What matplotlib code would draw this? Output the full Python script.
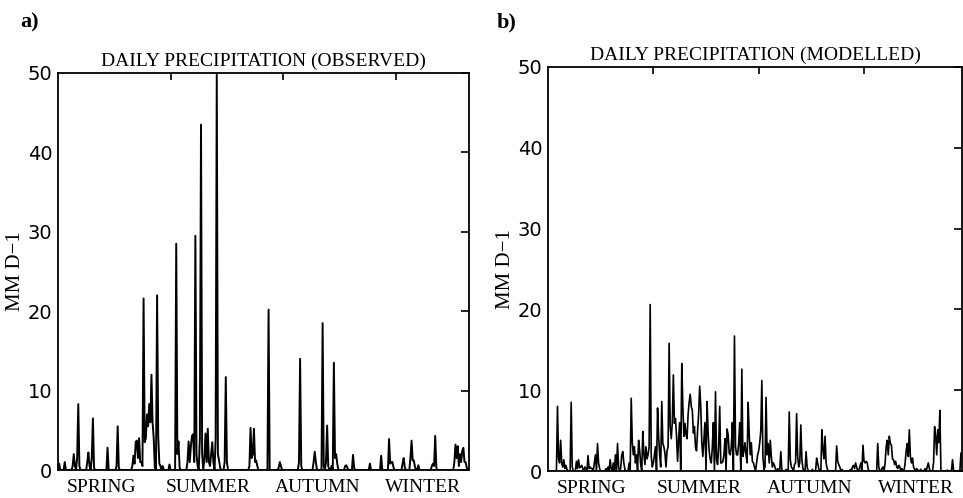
import numpy as np
import matplotlib
matplotlib.use("Agg")
import matplotlib.pyplot as plt

# observed daily precipitation: rain days and amounts (mm/day), all other days dry
obs_days = [1, 6, 13, 14, 15, 17, 18, 19, 26, 27, 28, 30, 31, 32, 44, 52, 53, 54,
            66, 67, 68, 69, 70, 71, 72, 73, 74, 75, 76, 77, 78, 79, 80, 81, 82, 83,
            84, 85, 86, 88, 89, 90, 91, 93, 99, 105, 106, 107, 108, 115, 116, 117,
            118, 119, 120, 121, 122, 123, 124, 126, 127, 128, 130, 131, 132, 133,
            134, 135, 136, 137, 138, 140, 141, 142, 143, 144, 148, 149, 150, 170,
            171, 172, 173, 174, 175, 176, 177, 187, 196, 197, 198, 214, 215, 216,
            227, 228, 229, 235, 236, 238, 239, 240, 243, 245, 246, 247, 248, 255,
            256, 257, 262, 263, 277, 287, 294, 295, 296, 297, 298, 306, 307, 308,
            313, 314, 315, 316, 317, 320, 332, 333, 334, 335, 336, 352, 353, 354,
            355, 356, 357, 358, 359, 360, 361, 362, 363]
obs_mm = [0.8, 1.0, 0.5, 2.0, 0.5, 1.5, 8.3, 0.5, 1.0, 2.2, 0.5, 1.5, 6.5, 0.3, 2.8, 0.5, 5.5, 0.3,
          0.5, 1.8, 0.8, 3.5, 3.7, 1.5, 4.0, 1.0, 1.0, 0.5, 21.6, 3.5, 4.0, 7.0, 5.5, 8.3, 6.0, 12.0,
          6.0, 4.0, 0.3, 22.0, 4.3, 0.8, 0.5, 0.5, 0.7, 28.5, 2.0, 3.6, 0.3, 1.0, 3.6, 1.0,
          3.0, 4.3, 4.5, 1.0, 29.5, 2.0, 0.5, 4.0, 43.5, 2.0, 1.5, 4.6, 1.0, 5.2,
          1.0, 0.5, 2.0, 3.5, 1.0, 4.0, 49.8, 2.0, 1.2, 0.3, 1.0, 11.7, 1.0, 0.5,
          5.3, 1.5, 2.0, 5.2, 1.0, 1.2, 0.5, 20.2, 0.3, 1.0, 0.5, 1.0, 14.0, 0.5,
          1.0, 2.3, 1.0, 18.5, 0.5, 1.0, 5.6, 0.5, 0.5, 13.5, 1.5, 2.0, 0.8, 0.5,
          0.6, 0.3, 1.9, 0.3, 0.8, 1.8, 3.9, 0.8, 1.0, 1.0, 0.3, 0.8, 1.5, 0.3,
          1.5, 3.7, 1.2, 1.2, 0.4, 0.6, 0.5, 0.8, 0.5, 4.3, 0.3, 1.0, 3.2, 1.5,
          3.0, 0.5, 2.0, 1.0, 2.4, 2.8, 1.0, 1.0, 0.3]

# modelled daily precipitation: days and amounts (mm/day), unlisted days dry
mod_days = [9, 10, 11, 12, 13, 14, 15, 16, 17, 18, 22, 23, 27, 28, 29, 30, 31, 32, 33, 35,
            36, 38, 39, 40, 41, 42, 44, 45, 47, 48, 49, 55, 57, 59, 60, 62, 64, 66, 67,
            69, 70, 71, 72, 73, 77, 79, 80, 81, 82, 83, 84, 86, 87, 88, 90, 91, 92, 93,
            94, 95, 96, 97, 98, 99, 100, 101, 102, 104, 105, 106, 107, 108, 109, 110,
            111, 112, 113, 114, 115, 116, 117, 118, 119, 120, 121, 122, 123, 124, 125,
            127, 128, 129, 130, 131, 132, 133, 134, 135, 136, 137, 138, 139, 140, 141,
            142, 143, 144, 145, 146, 147, 148, 149, 151, 152, 153, 154, 155, 156, 157,
            159, 160, 161, 162, 163, 164, 165, 166, 167, 168, 170, 171, 172, 173, 174,
            175, 177, 178, 179, 180, 181, 182, 184, 185, 186, 187, 188, 189, 190, 191,
            192, 193, 194, 195, 196, 198, 199, 200, 201, 202, 203, 204, 205, 206, 207,
            208, 209, 210, 211, 212, 213, 214, 215, 216, 218, 220, 221, 222, 226, 229,
            230, 231, 232, 234, 235, 236, 237, 238, 239, 240, 241, 242, 245, 246, 251,
            255, 256, 257, 260, 261, 262, 263, 264, 265, 274, 275, 276, 277, 279, 287,
            289, 290, 291, 292, 293, 296, 297, 299, 300, 301, 302, 303, 304, 313, 314,
            317, 318, 320, 321, 322, 323, 324, 325, 326, 327, 328, 329, 330, 331, 332,
            333, 334, 336, 339, 340, 341, 342, 343, 344, 345, 346, 347, 348, 350, 352,
            354, 358, 360, 361, 362, 366, 367, 368, 369, 370, 371, 372, 373, 379, 384,
            385, 392]
mod_mm = [8.0, 1.5, 1.0, 3.8, 1.0, 0.5, 1.4, 0.3, 0.7, 0.2, 8.5, 0.5, 1.2, 0.3, 1.4, 0.4, 0.5, 0.7, 0.3, 0.5,
          0.3, 1.9, 0.3, 0.5, 0.3, 0.3, 1.0, 2.0, 3.4, 1.0, 0.3, 0.3, 0.5, 1.4, 0.3, 1.0, 2.0, 3.4, 0.5,
          0.3, 2.0, 2.4, 1.0, 0.2, 1.0, 9.0, 3.6, 2.0, 3.0, 1.0, 2.0, 3.8, 2.6, 0.8, 4.9, 2.2, 0.8, 3.0,
          1.5, 2.0, 3.0, 20.6, 1.8, 0.5, 1.0, 2.0, 3.0, 7.8, 4.3, 2.0, 0.5, 8.6, 3.4, 3.0,
          2.2, 0.5, 2.5, 3.0, 15.8, 5.5, 4.0, 6.0, 11.9, 5.9, 6.5, 4.3, 1.2, 4.0, 6.0,
          13.3, 8.0, 4.3, 5.9, 4.5, 4.0, 7.0, 8.5, 9.5, 8.0, 7.5, 4.7, 5.5, 3.0, 2.5,
          5.0, 7.0, 10.5, 8.0, 3.5, 1.8, 4.0, 6.0, 8.6, 4.7, 2.5, 1.4, 1.0, 3.0, 6.0,
          9.8, 1.4, 0.8, 3.0, 8.0, 1.0, 1.0, 1.2, 2.0, 4.0, 5.2, 4.5, 2.2, 2.0, 3.0,
          6.0, 16.7, 3.0, 2.0, 2.0, 3.5, 6.0, 12.6, 1.8, 2.5, 3.5, 2.0, 1.0, 8.5, 4.5,
          2.0, 3.5, 1.2, 1.0, 0.5, 1.0, 2.0, 2.5, 3.5, 5.0, 11.2, 1.8, 0.2, 0.5, 9.1,
          2.0, 3.4, 1.0, 3.8, 1.8, 0.5, 1.0, 0.7, 0.2, 0.3, 0.2, 2.4, 0.1, 0.2, 7.3,
          1.4, 0.5, 0.3, 0.8, 1.0, 7.1, 1.8, 0.5, 1.0, 5.7, 1.4, 0.3, 2.4, 0.5, 0.2,
          1.6, 1.0, 0.3, 5.1, 2.6, 1.5, 4.3, 1.0, 0.3, 3.1, 1.2, 0.8, 0.5, 0.2, 0.2,
          0.5, 0.7, 0.3, 1.0, 0.5, 0.5, 1.0, 3.2, 1.2, 1.0, 1.2, 1.0, 0.2, 3.4, 0.5,
          0.3, 0.5, 1.0, 3.0, 3.8, 2.0, 4.3, 3.4, 3.2, 1.5, 1.4, 0.8, 1.2, 0.5, 0.3,
          0.7, 0.5, 0.3, 1.0, 2.5, 3.4, 1.8, 5.1, 1.8, 1.0, 1.6, 0.5, 0.2, 0.3, 0.1,
          0.2, 0.3, 0.5, 1.0, 0.3, 1.0, 5.5, 4.3, 2.0, 5.1, 3.5, 7.5, 0.1, 0.1, 1.4,
          0.1, 2.2]

seasons = ["SPRING", "SUMMER", "AUTUMN", "WINTER"]
season_pos = [0.105, 0.365, 0.632, 0.888]
yticks = [0, 10, 20, 30, 40, 50]

obs = np.zeros(365)
obs[obs_days] = obs_mm
mod = np.zeros(393)
mod[mod_days] = mod_mm

serif = "Liberation Serif"

fig = plt.figure(figsize=(9.63, 4.98), dpi=100)
ax1 = fig.add_axes([58 / 963, 28 / 498, 411 / 963, 397 / 498])
ax2 = fig.add_axes([548 / 963, 27 / 498, 414 / 963, 404 / 498])

panels = [(ax1, obs, "DAILY PRECIPITATION (OBSERVED)", "a)", 365, (-0.092, 1.126), 1.4),
          (ax2, mod, "DAILY PRECIPITATION (MODELLED)", "b)", 393, (-0.123, 1.109), 1.2)]

for ax, series, title, tag, ndays, tagpos, lw in panels:
    ax.plot(np.arange(len(series)), series, color="black", lw=lw)
    ax.set_xlim(0, ndays)
    ax.set_ylim(0, 50)
    for sp in ax.spines.values():
        sp.set_linewidth(1.3)
    ax.set_yticks(yticks)
    ax.set_yticklabels([str(t) for t in yticks], fontsize=14, family="DejaVu Sans")
    ax.tick_params(axis="y", left=False, right=True, direction="in", length=6, width=1.2, pad=4)
    ax.set_xticks([100, 200, 300])
    ax.tick_params(axis="x", bottom=False, top=True, labelbottom=False,
                   direction="in", length=5, width=1.2)
    ax.set_title(title, fontsize=14, family=serif, pad=5)
    ax.set_ylabel("MM D\u22121", fontsize=15, family=serif, labelpad=2)
    for name, pos in zip(seasons, season_pos):
        ax.text(pos, -0.022, name, transform=ax.transAxes, ha="center", va="top",
                fontsize=14, family=serif)
    ax.text(tagpos[0], tagpos[1], tag, transform=ax.transAxes,
            fontsize=16, family=serif, fontweight="bold", ha="left", va="center")

fig.savefig("out.png", dpi=100)
